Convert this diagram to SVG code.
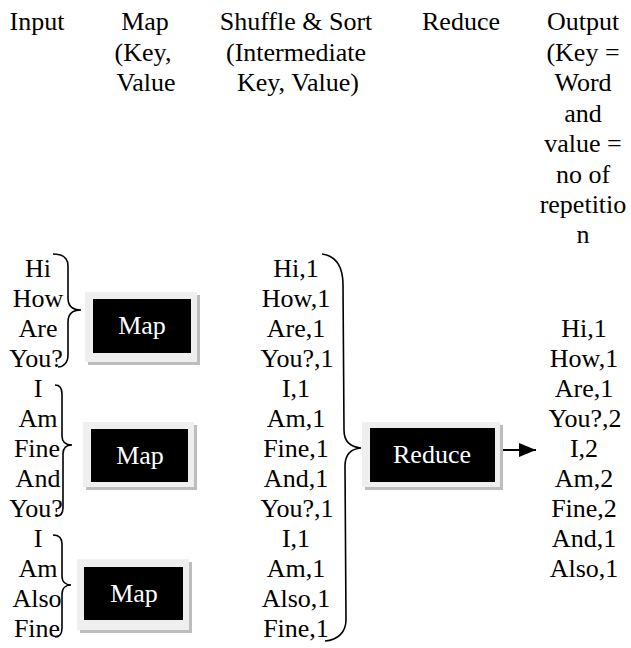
<svg xmlns="http://www.w3.org/2000/svg" width="631" height="648" viewBox="0 0 631 648">
  <style>
    .box-shadow { fill: #bdbdbd; }
    .box-frame { fill: #efefef; }
    .box-core { fill: #000; }
    .box-label { fill: #fff; }
    .brace { fill: none; stroke: #000; stroke-width: 1.6; }
    .flow { fill: none; stroke: #000; stroke-width: 2; }
  </style>
  <defs>
    <marker id="arrowhead" markerWidth="18" markerHeight="14" refX="17" refY="7" orient="auto" markerUnits="userSpaceOnUse">
      <polygon points="0,0 17,7 0,14" fill="#000"/>
    </marker>
  </defs>
  <rect width="631" height="648" fill="#fff"/>

  <g font-size="26" text-anchor="middle" fill="#000">
    <!-- column headings -->
    <g id="headings">
      <text font-family="Liberation Serif" x="37" y="30">Input</text>
      <text font-family="Liberation Serif" x="145" y="30">Map</text>
      <text font-family="Liberation Serif" x="143" y="61">(Key,</text>
      <text font-family="Liberation Serif" x="146" y="91">Value</text>
      <text font-family="Liberation Serif" x="296" y="30">Shuffle &amp; Sort</text>
      <text font-family="Liberation Serif" x="296" y="61">(Intermediate</text>
      <text font-family="Liberation Serif" x="298" y="91">Key, Value)</text>
      <text font-family="Liberation Serif" x="461" y="30">Reduce</text>
      <text font-family="Liberation Serif" x="583" y="30">Output</text>
      <text font-family="Liberation Serif" x="583" y="61">(Key =</text>
      <text font-family="Liberation Serif" x="583" y="91">Word</text>
      <text font-family="Liberation Serif" x="583" y="122">and</text>
      <text font-family="Liberation Serif" x="583" y="152">value =</text>
      <text font-family="Liberation Serif" x="583" y="183">no of</text>
      <text font-family="Liberation Serif" x="583" y="213">repetitio</text>
      <text font-family="Liberation Serif" x="583" y="243">n</text>
    </g>

    <!-- input words -->
    <g id="input-words">
      <text font-family="Liberation Serif" x="38" y="277">Hi</text>
      <text font-family="Liberation Serif" x="38" y="307">How</text>
      <text font-family="Liberation Serif" x="38" y="337">Are</text>
      <text font-family="Liberation Serif" x="36" y="367">You?</text>
      <text font-family="Liberation Serif" x="38" y="397">I</text>
      <text font-family="Liberation Serif" x="38" y="427">Am</text>
      <text font-family="Liberation Serif" x="37" y="457">Fine</text>
      <text font-family="Liberation Serif" x="38" y="487">And</text>
      <text font-family="Liberation Serif" x="36" y="517">You?</text>
      <text font-family="Liberation Serif" x="38" y="547">I</text>
      <text font-family="Liberation Serif" x="38" y="577">Am</text>
      <text font-family="Liberation Serif" x="37" y="607">Also</text>
      <text font-family="Liberation Serif" x="37" y="637">Fine</text>
    </g>

    <!-- map tasks -->
    <g id="map-1">
      <rect class="box-shadow" x="88" y="295" width="112" height="70"/>
      <rect class="box-frame" x="85" y="292" width="112" height="70"/>
      <rect class="box-core" x="93" y="299" width="98" height="54"/>
      <text font-family="Liberation Serif" class="box-label" x="142" y="334">Map</text>
    </g>
    <g id="map-2">
      <rect class="box-shadow" x="86" y="425" width="111" height="65"/>
      <rect class="box-frame" x="83" y="422" width="111" height="65"/>
      <rect class="box-core" x="91" y="429" width="97" height="53"/>
      <text font-family="Liberation Serif" class="box-label" x="140" y="464">Map</text>
    </g>
    <g id="map-3">
      <rect class="box-shadow" x="80" y="562" width="112" height="71"/>
      <rect class="box-frame" x="77" y="559" width="112" height="71"/>
      <rect class="box-core" x="84" y="567" width="99" height="53"/>
      <text font-family="Liberation Serif" class="box-label" x="134" y="602">Map</text>
    </g>

    <!-- intermediate pairs -->
    <g id="shuffle-sort">
      <text font-family="Liberation Serif" x="296" y="277">Hi,1</text>
      <text font-family="Liberation Serif" x="296" y="307">How,1</text>
      <text font-family="Liberation Serif" x="296" y="337">Are,1</text>
      <text font-family="Liberation Serif" x="297" y="367">You?,1</text>
      <text font-family="Liberation Serif" x="296" y="397">I,1</text>
      <text font-family="Liberation Serif" x="296" y="427">Am,1</text>
      <text font-family="Liberation Serif" x="296" y="457">Fine,1</text>
      <text font-family="Liberation Serif" x="296" y="487">And,1</text>
      <text font-family="Liberation Serif" x="297" y="517">You?,1</text>
      <text font-family="Liberation Serif" x="296" y="547">I,1</text>
      <text font-family="Liberation Serif" x="296" y="577">Am,1</text>
      <text font-family="Liberation Serif" x="296" y="607">Also,1</text>
      <text font-family="Liberation Serif" x="296" y="637">Fine,1</text>
    </g>

    <!-- reduce task -->
    <g id="reduce">
      <rect class="box-shadow" x="365" y="425" width="138" height="65"/>
      <rect class="box-frame" x="362" y="422" width="138" height="65"/>
      <rect class="box-core" x="370" y="428" width="125" height="54"/>
      <text font-family="Liberation Serif" class="box-label" x="432" y="463">Reduce</text>
    </g>

    <!-- final counts -->
    <g id="output">
      <text font-family="Liberation Serif" x="584" y="337">Hi,1</text>
      <text font-family="Liberation Serif" x="584" y="367">How,1</text>
      <text font-family="Liberation Serif" x="584" y="397">Are,1</text>
      <text font-family="Liberation Serif" x="585" y="427">You?,2</text>
      <text font-family="Liberation Serif" x="584" y="457">I,2</text>
      <text font-family="Liberation Serif" x="584" y="487">Am,2</text>
      <text font-family="Liberation Serif" x="584" y="517">Fine,2</text>
      <text font-family="Liberation Serif" x="584" y="547">And,1</text>
      <text font-family="Liberation Serif" x="584" y="577">Also,1</text>
    </g>
  </g>

  <!-- braces and flow arrow -->
  <g id="connectors">
    <path class="brace" d="M53,254 C63,254 68,258 68,266 L68,298 C68,306 72,310 81,310 C72,310 68,314 68,322 L68,355 C68,363 63,367 58,367"/>
    <path class="brace" d="M55,385 C60,385 62,388 62,394 L62,436 C62,442 66,445 72,445 C66,445 63,448 63,454 L63,507 C63,513 61,516 57,516"/>
    <path class="brace" d="M53,535 C59,535 62,538 62,544 L62,576 C62,582 66,585 71,585 C66,585 62,588 62,594 L62,628 C62,634 60,637 55,637"/>
    <path class="brace" d="M322,254 C336,256 343,266 343,285 L344,430 C344,441 350,447 361,448 C350,449 345,455 345,466 L346,620 C346,632 338,640 325,641"/>
    <line class="flow" x1="503" y1="450" x2="536" y2="450" marker-end="url(#arrowhead)"/>
  </g>
</svg>
